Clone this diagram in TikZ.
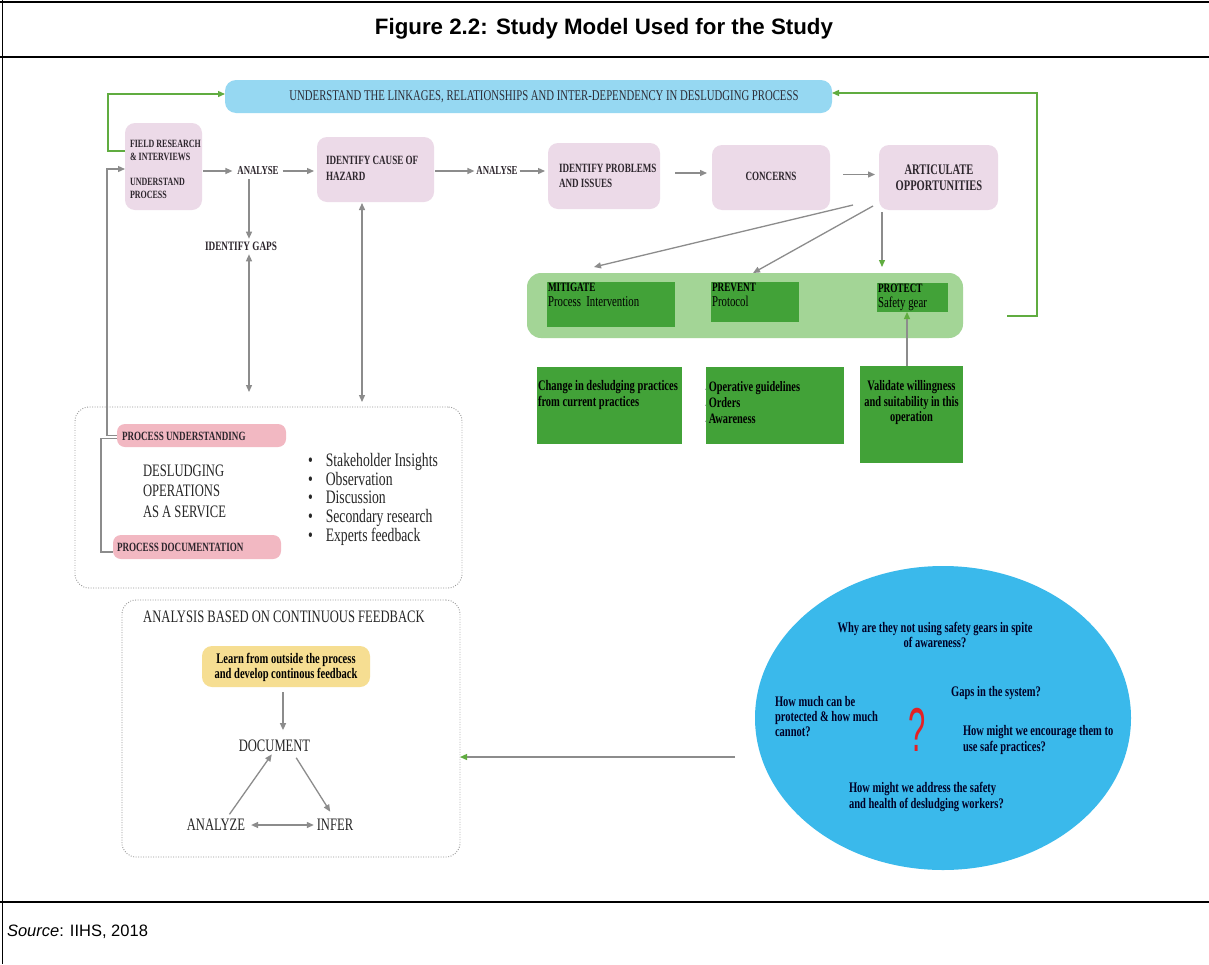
\documentclass[tikz,border=0pt]{standalone}
\usepackage{fontspec}
\usepackage{graphicx}
\setmainfont{Liberation Serif}
\newfontfamily\dgf[FakeStretch=0.72]{Liberation Serif}
\newfontfamily\hdf{Liberation Sans}
\usetikzlibrary{arrows.meta,shapes.geometric}
\newcommand\fsz[2]{\fontsize{#1}{#2}\selectfont}
\definecolor{pinkc}{RGB}{236,218,232}
\definecolor{bluec}{RGB}{150,216,242}
\definecolor{pillc}{RGB}{242,184,194}
\definecolor{bandc}{RGB}{163,213,150}
\definecolor{dgreen}{RGB}{66,162,56}
\definecolor{yelc}{RGB}{246,222,146}
\definecolor{ellc}{RGB}{58,185,235}
\definecolor{grayc}{RGB}{140,140,140}
\definecolor{greenc}{RGB}{96,172,64}
\definecolor{txtc}{RGB}{45,38,45}
\definecolor{barc}{RGB}{45,45,55}
\definecolor{dotc}{RGB}{150,150,150}
\definecolor{qred}{RGB}{228,32,36}
\begin{document}
\begin{tikzpicture}[x=1pt,y=-1pt,
  every node/.style={inner sep=0pt,outer sep=0pt},
  pbox/.style={fill=pinkc,rounded corners=10pt},
  pill/.style={fill=pillc,rounded corners=8pt},
  gbox/.style={fill=dgreen},
  dbox/.style={draw=dotc,line width=0.9pt,dash pattern=on 0.9pt off 1.6pt,rounded corners=14pt},
  lab/.style={font=\dgf\bfseries\fsz{12.6}{15},text=txtc,align=left},
  plain/.style={font=\dgf\fsz{17.5}{20.5},text=black!85,align=left},
  gtxt/.style={font=\dgf\fsz{14.5}{16},text=black,align=left},
  qtxt/.style={font=\dgf\bfseries\fsz{14.6}{15.2},text=black!85!blue,align=left},
  gline/.style={draw=grayc,line width=1.3pt},
  grline/.style={draw=greenc,line width=1.3pt},
  tip/.style={-{Triangle[length=7pt,width=6pt]}},
  gtip/.style={-{Triangle[length=7pt,width=6pt,color=greenc]}},
  dtip/.style={{Triangle[length=7pt,width=6pt]}-{Triangle[length=7pt,width=6pt]}}
]
\useasboundingbox[fill=white] (0,0) rectangle (1209,964);
% frame
\draw[line width=1.6pt] (2.5,0) -- (2.5,964);
\draw[line width=1.6pt] (0,2) -- (1209,2);
\draw[line width=1.6pt] (0,57) -- (1209,57);
\draw[line width=1.6pt] (0,902) -- (1209,902);
\node[font=\hdf\bfseries\fsz{22.3}{25}] (title) at (604,29) {Figure 2.2: Study Model Used for the Study};
\node[anchor=west,font=\hdf\fsz{16.5}{19}] (src) at (7,932) {\textit{Source}: IIHS, 2018};

% top bar
\node[fill=bluec,rounded corners=11pt,minimum width=607pt,minimum height=33pt] (bar) at (528.5,96.5) {};
\node[font=\dgf\fsz{14.9}{16},text=barc] (bart) at (544,97) {UNDERSTAND THE LINKAGES, RELATIONSHIPS AND INTER-DEPENDENCY IN DESLUDGING PROCESS};

% process row
\node[pbox,minimum width=77pt,minimum height=87pt] (fr) at (163.5,166.5) {};
\node[lab,font=\dgf\bfseries\fsz{11.1}{13},anchor=west] (frt) at (130,169) {FIELD RESEARCH\\\& INTERVIEWS\\[12pt]UNDERSTAND\\PROCESS};
\node[lab,font=\dgf\bfseries\fsz{12.2}{15}] (an1) at (258,171) {ANALYSE};
\node[pbox,minimum width=117pt,minimum height=65pt] (cause) at (375.5,169.5) {};
\node[lab,font=\dgf\bfseries\fsz{12.6}{16},anchor=west] (causet) at (326,168) {IDENTIFY CAUSE OF\\HAZARD};
\node[lab,font=\dgf\bfseries\fsz{12.2}{15}] (an2) at (497,171) {ANALYSE};
\node[pbox,minimum width=112pt,minimum height=66pt] (prob) at (604,176) {};
\node[lab,anchor=west] (probt) at (559,175.5) {IDENTIFY PROBLEMS\\AND ISSUES};
\node[pbox,minimum width=118pt,minimum height=65pt] (conc) at (771,177.5) {};
\node[lab] (conct) at (771,176) {CONCERNS};
\node[pbox,minimum width=119pt,minimum height=65pt] (art) at (938.5,177.5) {};
\node[lab,font=\dgf\bfseries\fsz{14.6}{16},align=center] (artt) at (939,178) {ARTICULATE\\OPPORTUNITIES};
\node[lab,font=\dgf\bfseries\fsz{12.8}{15}] (gaps) at (241,246) {IDENTIFY GAPS};

% green band
\node[fill=bandc,rounded corners=14pt,minimum width=436pt,minimum height=65pt] (band) at (745,305.5) {};
\node[gbox,minimum width=128pt,minimum height=45pt] (mit) at (611,304.5) {};
\node[gbox,minimum width=88pt,minimum height=40pt] (pre) at (755,302) {};
\node[gbox,minimum width=71pt,minimum height=29pt] (pro) at (912.5,297.5) {};
\node[gtxt,font=\dgf\fsz{15}{15},anchor=north west] (mitt) at (548,283) {{\bfseries\fsz{12.8}{15}MITIGATE}\\Process\ \ Intervention};
\node[gtxt,font=\dgf\fsz{15}{15},anchor=north west] (pret) at (712,283) {{\bfseries\fsz{12.8}{15}PREVENT}\\Protocol};
\node[gtxt,font=\dgf\fsz{15}{15},anchor=north west] (prot) at (878,284) {{\bfseries\fsz{12.8}{15}PROTECT}\\Safety gear};

% lower green boxes
\node[gbox,minimum width=145pt,minimum height=77pt] (ch) at (609.5,405.5) {};
\node[gtxt,font=\dgf\bfseries\fsz{14.6}{16},anchor=west] (cht) at (538,395) {Change in desludging practices\\from current practices};
\node[gbox,minimum width=138pt,minimum height=77pt] (op) at (775,405.5) {};
\node[gtxt,anchor=west] (opt) at (705,404) {\fsz{14.4}{16}\bfseries\begin{tabular}{@{}l@{\hspace{2.5pt}}l@{}}
{\color{grayc}\fsz{5}{5}\textbullet} & Operative guidelines\\
{\color{grayc}\fsz{5}{5}\textbullet} & Orders\\
{\color{grayc}\fsz{5}{5}\textbullet} & Awareness
\end{tabular}};
\node[gbox,minimum width=103pt,minimum height=97pt] (va) at (911.5,414.5) {};
\node[gtxt,font=\dgf\bfseries\fsz{14.5}{15.5},align=center] (vat) at (911.5,403) {Validate willingness\\and suitability in this\\operation};

% dotted box 1
\node[dbox,minimum width=387pt,minimum height=181pt] (box1) at (268.5,497.5) {};
\node[pill,minimum width=169pt,minimum height=23pt] (pu) at (201.5,435.5) {};
\node[lab,anchor=west] (put) at (122,436) {PROCESS UNDERSTANDING};
\node[pill,minimum width=168pt,minimum height=24pt] (pd) at (197,547) {};
\node[lab,anchor=west] (pdt) at (117,547.5) {PROCESS DOCUMENTATION};
\node[plain,anchor=west] (dos) at (143,491) {DESLUDGING\\OPERATIONS\\AS A SERVICE};
\node[plain,anchor=west] (bul) at (308,500) {\fsz{19}{18.5}\begin{tabular}{@{}l@{\hspace{13pt}}l@{}}
\textbullet & Stakeholder Insights\\
\textbullet & Observation\\
\textbullet & Discussion\\
\textbullet & Secondary research\\
\textbullet & Experts feedback
\end{tabular}};

% dotted box 2
\node[dbox,minimum width=338pt,minimum height=257pt] (box2) at (291,728.5) {};
\node[plain,font=\dgf\fsz{17.5}{18}] (abt) at (284,617) {ANALYSIS BASED ON CONTINUOUS FEEDBACK};
\node[fill=yelc,rounded corners=10pt,minimum width=168pt,minimum height=41pt] (yel) at (286,666.5) {};
\node[gtxt,font=\dgf\bfseries\fsz{14.6}{15},align=center] (yelt) at (286,667) {Learn from outside the process\\and develop continous feedback};
\node[plain] (doc) at (274.5,746) {DOCUMENT};
\node[plain] (ana) at (216,825) {ANALYZE};
\node[plain] (inf) at (335,825) {INFER};

% ellipse
\node[ellipse,fill=ellc,minimum width=376pt,minimum height=304pt] (ell) at (943,718) {};
\node[qtxt,align=center] (q1) at (935,635) {Why are they not using safety gears in spite\\of awareness?};
\node[qtxt] (q2) at (996,693) {Gaps in the system?};
\node[qtxt,anchor=west] (q3) at (775,716.5) {How much can be\\protected \& how much\\cannot?};
\node[text=qred,font=\hdf\fsz{62}{62}] (qm) at (917,730) {\scalebox{0.5}[1]{?}};
\node[qtxt,anchor=west] (q4) at (963,740) {How might we encourage them to\\use safe practices?};
\node[qtxt,anchor=west] (q5) at (849,797) {How might we address the safety\\and health of desludging workers?};

% helper coordinates
\coordinate (lx) at (107,169);
\coordinate (gx) at (249,0);
\coordinate (cx) at (362,0);
\coordinate (vx) at (907,0);
\coordinate (dx) at (283,0);
\coordinate (rl) at (1007,316);
\coordinate (ea) at (735,757);

% connectors row
\draw[gline,tip] (pu.west) -| (lx) -- (lx -| fr.west);
\draw[gline] ([yshift=-3pt]pu.west) -- ++(-16,0) |- ([yshift=-5pt]pd.west);
\draw[gline,tip,shorten <=1pt,shorten >=5pt] (an1.west -| fr.east) -- (an1.west);
\draw[gline,tip,shorten <=4pt,shorten >=3pt] (an1.east) -- (an1.east -| cause.west);
\draw[gline,tip,shorten <=1pt,shorten >=2pt] (an2.west -| cause.east) -- (an2.west);
\draw[gline,tip,shorten <=2pt,shorten >=3pt] (an2.east) -- (an2.east -| prob.west);
\draw[gline,tip,shorten <=15pt,shorten >=5pt] ([yshift=3pt]prob.east) -- ([yshift=3pt]prob.east -| conc.west);
\draw[gline,tip,shorten <=13pt,shorten >=4pt] ([yshift=3pt]conc.east) -- ([yshift=3pt]conc.east -| art.west);
\draw[gline,tip,shorten <=4pt,shorten >=3pt] (an1.south -| gx) -- (gaps.north -| gx);
\draw[gline,dtip,shorten <=4pt,shorten >=15pt] (gaps.south -| gx) -- (box1.north -| gx);
\draw[gline,dtip,shorten <=1pt,shorten >=5pt] (cause.south -| cx) -- (box1.north -| cx);

% articulate to band
\draw[gline,tip] ([xshift=-26pt,yshift=5pt]art.south west) -- ([xshift=-17pt,yshift=15pt]mit.north);
\draw[gline,tip] ([xshift=-6pt,yshift=4pt]art.south west) -- ([xshift=-2pt,yshift=9pt]pre.north);
\draw[gline,gtip,shorten <=2pt,shorten >=6pt] ([xshift=3pt]art.south west) -- ([xshift=3pt]art.south west |- band.north);
\draw[gline,gtip] (va.north -| vx) -- (pro.south -| vx);

% green loops
\draw[grline,gtip] ([yshift=15.5pt]fr.west) -- ++(-17,0) |- ([yshift=2.5pt]bar.west);
\draw[grline,gtip] (rl) -- ++(30,0) |- ([yshift=3.5pt]bar.east);

% feedback box
\draw[gline,tip,shorten <=5pt,shorten >=10pt] (yel.south -| dx) -- (doc.north -| dx);
\draw[gline,tip,shorten <=6pt,shorten >=3pt] ([xshift=10pt]ana.north) -- ([xshift=-1pt]doc.south);
\draw[gline,tip,shorten <=7pt,shorten >=9pt] ([xshift=18pt]doc.south) -- (inf.north);
\draw[gline,dtip,shorten <=6pt,shorten >=3pt] (ana.east) -- (inf.west);
\draw[gline,gtip] (ea) -- (ea -| box2.east);
\end{tikzpicture}
\end{document}
